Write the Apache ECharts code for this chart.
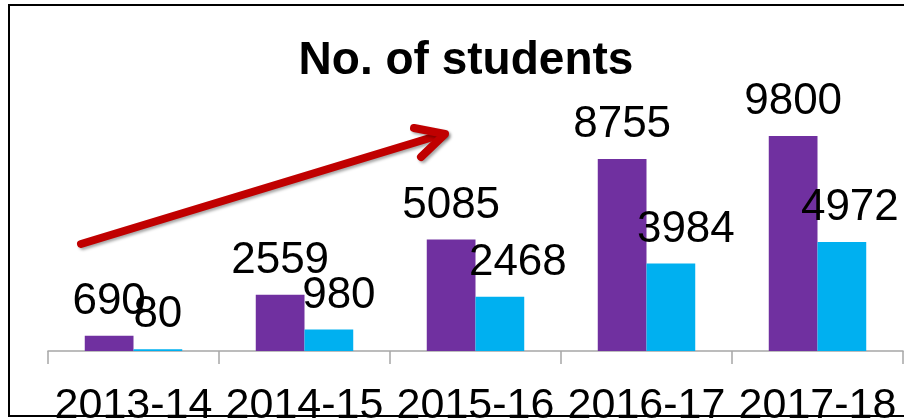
<!DOCTYPE html>
<html>
<head>
<meta charset="utf-8">
<script src="https://cdn.jsdelivr.net/npm/echarts@6/dist/echarts.min.js"></script>
<style>html,body{margin:0;padding:0;background:#fff;}#c{width:904px;height:418px;}</style>
</head>
<body>
<div id="c"></div>
<script>
const categories = ['2013-14', '2014-15', '2015-16', '2016-17', '2017-18'];
const seriesA = [690, 2559, 5085, 8755, 9800];
const seriesB = [80, 980, 2468, 3984, 4972];
const titleText = 'No. of students';

const chart = echarts.init(document.getElementById('c'), null, {renderer: 'canvas'});
const fontFam = '"Liberation Sans", Arial, sans-serif';
const redStyle = {stroke: '#C00000', lineWidth: 8, lineCap: 'round', lineJoin: 'round', fill: null,
  shadowBlur: 3, shadowColor: 'rgba(0,0,0,0.35)', shadowOffsetX: 2, shadowOffsetY: 2};
const labelShiftB = [0, 10, 18, 15, 8];

chart.setOption({
  animation: false,
  backgroundColor: '#ffffff',
  title: {
    text: titleText, left: 461, top: 33, textAlign: 'center',
    textStyle: {fontFamily: fontFam, fontWeight: 'bold', fontSize: 46, color: '#000'}
  },
  grid: {left: 48, right: 1, top: 131.6, bottom: 67, containLabel: false, outerBoundsMode: 'none'},
  xAxis: {
    type: 'category', data: categories,
    axisLine: {lineStyle: {color: '#a6a6a6', width: 1.5}},
    axisTick: {show: true, length: 13, alignWithLabel: false, lineStyle: {color: '#a6a6a6', width: 1.5}},
    axisLabel: {fontFamily: fontFam, fontSize: 43, color: '#000', margin: 34, interval: 0}
  },
  yAxis: {type: 'value', min: 0, max: 10000, show: false, splitLine: {show: false}},
  series: [
    {
      type: 'bar', data: seriesA,
      barGap: '0%', barCategoryGap: '43%',
      itemStyle: {color: '#7030A0'},
      label: {show: true, position: 'top', distance: 12, fontFamily: fontFam, fontSize: 44, color: '#000'}
    },
    {
      type: 'bar', data: seriesB.map((v, i) => ({value: v, label: {offset: [labelShiftB[i], 0]}})),
      itemStyle: {color: '#00B0F0'},
      label: {show: true, position: 'top', distance: 12, fontFamily: fontFam, fontSize: 44, color: '#000'}
    }
  ],
  graphic: [
    {type: 'rect', shape: {x: 9, y: 5, width: 904, height: 411}, style: {fill: null, stroke: '#000', lineWidth: 2}, z: 100},
    {type: 'polyline', shape: {points: [[81, 244], [443, 134]]}, style: redStyle, z: 90},
    {type: 'polyline', shape: {points: [[414, 128], [445, 134], [421, 157]]}, style: redStyle, z: 90}
  ]
});
</script>
</body>
</html>
